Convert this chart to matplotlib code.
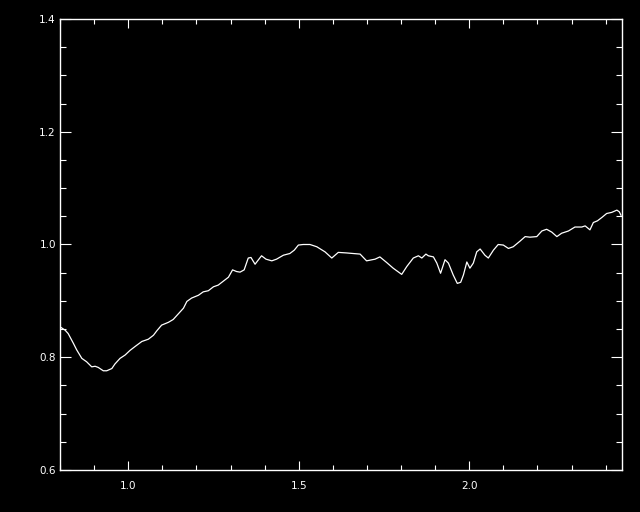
import matplotlib
matplotlib.use('Agg')
import matplotlib.pyplot as plt
from matplotlib.ticker import MultipleLocator, FormatStrFormatter

# spectrum values
wave = [0.800, 0.815, 0.824, 0.839, 0.849, 0.864, 0.878, 0.893, 0.903, 0.912,
        0.927, 0.937, 0.952, 0.961, 0.976, 0.991, 1.005, 1.020, 1.040, 1.059,
        1.074, 1.084, 1.098, 1.118, 1.132, 1.147, 1.162, 1.172, 1.186, 1.206,
        1.220, 1.235, 1.250, 1.264, 1.279, 1.294, 1.306, 1.318, 1.328, 1.340,
        1.352, 1.360, 1.372, 1.382, 1.391, 1.404, 1.421, 1.435, 1.455, 1.474,
        1.487, 1.499, 1.513, 1.533, 1.553, 1.577, 1.597, 1.616, 1.641, 1.660,
        1.680, 1.699, 1.724, 1.738, 1.758, 1.777, 1.802, 1.817, 1.836, 1.851,
        1.861, 1.873, 1.880, 1.895, 1.905, 1.916, 1.929, 1.939, 1.953, 1.965,
        1.975, 1.983, 1.993, 2.002, 2.012, 2.022, 2.032, 2.046, 2.056, 2.071,
        2.085, 2.100, 2.115, 2.129, 2.149, 2.164, 2.178, 2.198, 2.213, 2.227,
        2.242, 2.257, 2.271, 2.291, 2.310, 2.330, 2.340, 2.354, 2.364, 2.376,
        2.389, 2.403, 2.418, 2.433, 2.440, 2.445]
flux = [0.854, 0.848, 0.842, 0.825, 0.813, 0.798, 0.792, 0.783, 0.784, 0.782,
        0.776, 0.776, 0.780, 0.788, 0.798, 0.804, 0.812, 0.819, 0.828, 0.832,
        0.839, 0.847, 0.857, 0.862, 0.867, 0.877, 0.887, 0.899, 0.905, 0.910,
        0.916, 0.918, 0.925, 0.928, 0.935, 0.942, 0.955, 0.952, 0.951, 0.955,
        0.976, 0.977, 0.965, 0.973, 0.980, 0.974, 0.971, 0.974, 0.981, 0.984,
        0.990, 0.999, 1.000, 1.000, 0.996, 0.987, 0.976, 0.986, 0.985, 0.984,
        0.983, 0.971, 0.974, 0.978, 0.968, 0.958, 0.947, 0.961, 0.976, 0.980,
        0.976, 0.983, 0.980, 0.978, 0.967, 0.949, 0.973, 0.967, 0.946, 0.931,
        0.933, 0.946, 0.969, 0.958, 0.967, 0.987, 0.992, 0.981, 0.976, 0.990,
        1.000, 0.999, 0.993, 0.996, 1.006, 1.014, 1.013, 1.014, 1.024, 1.027,
        1.022, 1.014, 1.020, 1.024, 1.031, 1.031, 1.033, 1.026, 1.039, 1.042,
        1.048, 1.055, 1.057, 1.061, 1.058, 1.052]

fig = plt.figure(figsize=(6.4, 5.12), dpi=100, facecolor='black')
ax = fig.add_axes([60/640, 42/512, 562/640, 451/512], facecolor='black')

ax.plot(wave, flux, color='white', linewidth=0.9)

ax.set_xlim(0.8, 2.448)
ax.set_ylim(0.6, 1.4)

ax.xaxis.set_major_locator(MultipleLocator(0.5))
ax.xaxis.set_minor_locator(MultipleLocator(0.1))
ax.yaxis.set_major_locator(MultipleLocator(0.2))
ax.yaxis.set_minor_locator(MultipleLocator(0.05))
ax.xaxis.set_major_formatter(FormatStrFormatter('%.1f'))
ax.yaxis.set_major_formatter(FormatStrFormatter('%.1f'))

for s in ax.spines.values():
    s.set_color('white')
    s.set_linewidth(1.0)

ax.tick_params(axis='both', which='both', direction='in', colors='white',
               top=True, right=True, width=0.8, labelsize=7.5)
ax.tick_params(axis='x', which='major', length=6.5, pad=8)
ax.tick_params(axis='x', which='minor', length=3.4)
ax.tick_params(axis='y', which='major', length=8, pad=3)
ax.tick_params(axis='y', which='minor', length=4.5)

fig.savefig('out.png', dpi=100, facecolor='black')
